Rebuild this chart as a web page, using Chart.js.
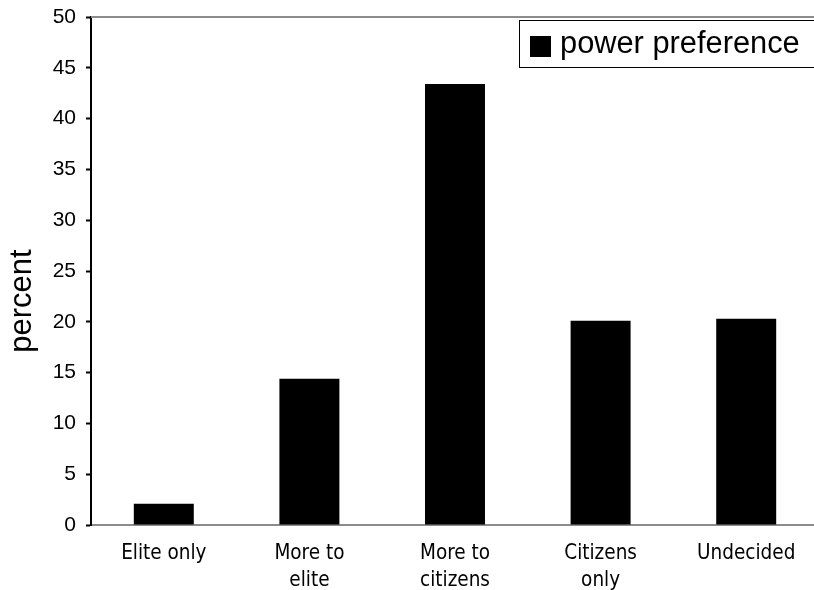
<!DOCTYPE html>
<html>
<head>
<meta charset="utf-8">
<script src="https://cdn.jsdelivr.net/npm/chart.js@4/dist/chart.umd.min.js"></script>
<style>
html,body{margin:0;padding:0;background:#fff;overflow:hidden;}
#wrap{width:822px;height:590px;position:relative;}
</style>
</head>
<body>
<div id="wrap"><canvas id="c"></canvas></div>
<script>
const categories = [["Elite only"], ["More to", "elite"], ["More to", "citizens"], ["Citizens", "only"], ["Undecided"]];
const seriesName = "power preference";
const values = [2.1, 14.4, 43.4, 20.1, 20.3];
const yTicks = [0, 5, 10, 15, 20, 25, 30, 35, 40, 45, 50];
const yTitle = "percent";

const frame = {
  id: 'frame',
  afterDraw(chart) {
    const ctx = chart.ctx, a = chart.chartArea;
    ctx.save();
    ctx.strokeStyle = '#8c8c8c';
    ctx.lineWidth = 2;
    ctx.beginPath();
    ctx.moveTo(a.left, a.top);
    ctx.lineTo(a.right + 10, a.top);
    ctx.stroke();
    // y title
    ctx.fillStyle = '#000';
    ctx.font = '31px "Liberation Sans", Arial, sans-serif';
    ctx.textAlign = 'center';
    ctx.textBaseline = 'middle';
    ctx.translate(22, 301);
    ctx.rotate(-Math.PI / 2);
    ctx.fillText(chart.options.scales.y.title.text, 0, 0);
    ctx.setTransform(1, 0, 0, 1, 0, 0);
    // legend
    const ds = chart.data.datasets[0];
    ctx.fillStyle = '#fff';
    ctx.fillRect(519.5, 20.5, 310, 47);
    ctx.strokeStyle = '#000';
    ctx.lineWidth = 1;
    ctx.strokeRect(519.5, 20.5, 310, 47);
    ctx.fillStyle = '#000';
    ctx.fillRect(530, 36, 21, 21);
    ctx.font = '30.8px "Liberation Sans", Arial, sans-serif';
    ctx.textBaseline = 'middle';
    ctx.textAlign = 'left';
    ctx.fillText(ds.label, 560, 45);
    ctx.restore();
  }
};

new Chart(document.getElementById('c'), {
  type: 'bar',
  data: {
    labels: categories,
    datasets: [{
      label: seriesName,
      data: values,
      backgroundColor: '#000',
      borderColor: '#000',
      borderWidth: 0,
      barPercentage: 0.412,
      categoryPercentage: 1.0
    }]
  },
  options: {
    responsive: true,
    maintainAspectRatio: false,
    animation: false,
    layout: { padding: { left: 0, top: 17, right: 3, bottom: 0 } },
    plugins: { legend: { display: false }, tooltip: { enabled: false } },
    scales: {
      x: {
        grid: { display: false, drawTicks: false },
        border: { display: true, color: '#8c8c8c', width: 2 },
        ticks: {
          color: '#000',
          padding: 15,
          maxRotation: 0,
          autoSkip: false,
          font: { family: '"DejaVu Sans Condensed", "DejaVu Sans", sans-serif', size: 20.5, lineHeight: 1.32 }
        },
        afterFit(s) { s.height = 65; s.paddingLeft = 0; s.paddingRight = 0; }
      },
      y: {
        min: 0, max: 50,
        afterBuildTicks(s) { s.ticks = yTicks.map(v => ({ value: v })); },
        grid: { display: true, drawOnChartArea: false, drawTicks: true, tickLength: 5, color: '#000', tickColor: '#000', tickWidth: 2 },
        border: { display: true, color: '#000', width: 2 },
        ticks: {
          color: '#000',
          padding: 10,
          font: { family: '"Liberation Sans", Arial, sans-serif', size: 21 }
        },
        title: {
          display: false,
          text: yTitle
        },
        afterFit(s) { s.width = 91; s.paddingTop = 0; s.paddingBottom = 0; }
      }
    }
  },
  plugins: [frame]
});
</script>
</body>
</html>
